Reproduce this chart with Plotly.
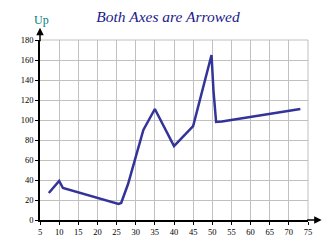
import plotly.graph_objects as go

x_vals = [7.3, 10, 11, 25.5, 26.2, 28, 32, 35, 40, 45, 49.8, 50.3, 51, 52.5, 73]
y_vals = [27, 39, 32, 16, 17, 36, 90, 111, 74, 94, 165, 130, 98, 98.5, 111]
x_ticks = list(range(5, 80, 5))
y_ticks = list(range(0, 200, 20))
title_text = "Both Axes are Arrowed"
y_title = "Up"

SERIF = "Liberation Serif"

fig = go.Figure()
fig.add_trace(go.Scatter(x=x_vals, y=y_vals, mode="lines",
                         line=dict(color="#333399", width=2.5), hoverinfo="skip"))

tick_font = dict(family=SERIF, size=8.5, color="black")
fig.update_layout(
    width=336, height=252,
    margin=dict(l=40, r=28, t=40, b=32),
    paper_bgcolor="white", plot_bgcolor="white",
    showlegend=False,
    title=dict(text=title_text, x=0.5, xanchor="center", xref="container", y=0.935, yanchor="middle",
               font=dict(family=SERIF, size=15.5, color="#1a1a8c", style="italic")),
    xaxis=dict(range=[5, 75], tickvals=x_ticks, showgrid=True, gridcolor="#c0c0c0", gridwidth=1,
               showline=True, linecolor="black", linewidth=1.5, zeroline=False,
               ticks="outside", ticklen=3, tickcolor="black", tickfont=tick_font),
    yaxis=dict(range=[0, 180], tickvals=y_ticks, showgrid=True, gridcolor="#c0c0c0", gridwidth=1,
               showline=True, linecolor="black", linewidth=1.5, zeroline=False,
               ticks="outside", ticklen=3, tickcolor="black", tickfont=tick_font),
)

# gray border on top/right
fig.add_shape(type="line", xref="paper", yref="paper", x0=0, x1=1, y0=1, y1=1,
              line=dict(color="#c0c0c0", width=1), layer="below")
fig.add_shape(type="line", xref="paper", yref="paper", x0=1, x1=1, y0=0, y1=1,
              line=dict(color="#c0c0c0", width=1), layer="below")

# arrows
fig.add_annotation(xref="paper", yref="paper", x=1.051, y=0, axref="pixel", ayref="pixel",
                   ax=-16, ay=0, showarrow=True, arrowhead=2, arrowsize=1, arrowwidth=1.5,
                   arrowcolor="black", text="")
fig.add_annotation(xref="paper", yref="paper", x=0, y=1.068, axref="pixel", ayref="pixel",
                   ax=0, ay=15, showarrow=True, arrowhead=2, arrowsize=1, arrowwidth=1.5,
                   arrowcolor="black", text="")
fig.add_annotation(xref="paper", yref="paper", x=0, y=1.11, yanchor="middle", xanchor="left",
                   xshift=-8, showarrow=False, text=y_title,
                   font=dict(family=SERIF, size=12, color="#008080"))

fig.write_html("out.html")
